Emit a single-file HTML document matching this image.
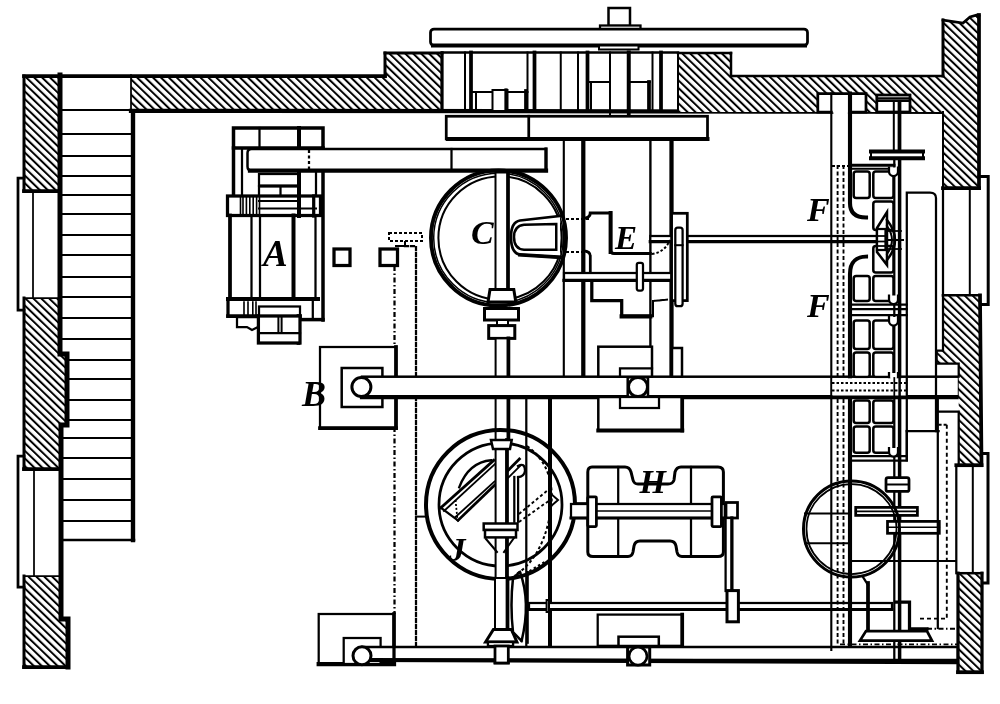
<!DOCTYPE html>
<html><head><meta charset="utf-8"><style>
html,body{margin:0;padding:0;background:#fff;}
svg{display:block;will-change:transform;}
text{font-family:"Liberation Serif",serif;font-style:italic;font-weight:bold;fill:#000;stroke:none;}
</style></head><body>
<svg width="1000" height="704" viewBox="0 0 1000 704">
<defs>
<pattern id="h" patternUnits="userSpaceOnUse" width="5.5" height="5.5" patternTransform="rotate(-46)">
<rect width="5.5" height="5.5" fill="#fff"/>
<rect x="0" y="0" width="2.0" height="5.5" fill="#000"/>
</pattern>
</defs>
<rect width="1000" height="704" fill="#fff"/>
<g stroke="#000" fill="none" stroke-linecap="square">
<polygon points="24,76 59,76 59,191 24,191" fill="url(#h)" stroke="none"/>
<polygon points="24,298 60,298 60,354 67,354 67,425 60,425 60,469 24,469" fill="url(#h)" stroke="none"/>
<polygon points="24,576 62,576 62,619 68,619 68,667 24,667" fill="url(#h)" stroke="none"/>
<line x1="24" y1="76" x2="24" y2="191" stroke-width="3.00"/>
<line x1="24" y1="191" x2="59" y2="191" stroke-width="3.75"/>
<line x1="24" y1="298" x2="24" y2="469" stroke-width="3.00"/>
<line x1="24" y1="298" x2="60" y2="298" stroke-width="1.75"/>
<line x1="24" y1="469" x2="60" y2="469" stroke-width="3.75"/>
<line x1="24" y1="576" x2="24" y2="667" stroke-width="3.00"/>
<line x1="24" y1="576" x2="62" y2="576" stroke-width="1.75"/>
<line x1="24" y1="667" x2="68" y2="667" stroke-width="3.75"/>
<polyline points="24,178 18,178 18,310 24,310" stroke-width="2.75" fill="none"/>
<line x1="33" y1="191" x2="33" y2="298" stroke-width="1.75"/>
<polyline points="24,456 18,456 18,587 24,587" stroke-width="2.75" fill="none"/>
<line x1="34" y1="469" x2="34" y2="576" stroke-width="1.75"/>
<polyline points="60,75 60,354 67,354 67,425 61,425 61,619 68,619 68,667" stroke-width="5.00" fill="none"/>
<line x1="133" y1="111" x2="133" y2="540" stroke-width="4.38"/>
<line x1="61" y1="540" x2="134" y2="540" stroke-width="2.50"/>
<line x1="61" y1="110" x2="133" y2="110" stroke-width="2.00"/>
<line x1="61" y1="134" x2="133" y2="134" stroke-width="2.00"/>
<line x1="61" y1="156" x2="133" y2="156" stroke-width="2.00"/>
<line x1="61" y1="176" x2="133" y2="176" stroke-width="2.00"/>
<line x1="61" y1="195" x2="133" y2="195" stroke-width="2.00"/>
<line x1="61" y1="214" x2="133" y2="214" stroke-width="2.00"/>
<line x1="61" y1="235" x2="133" y2="235" stroke-width="2.00"/>
<line x1="61" y1="255" x2="133" y2="255" stroke-width="2.00"/>
<line x1="61" y1="277" x2="133" y2="277" stroke-width="2.00"/>
<line x1="61" y1="297" x2="133" y2="297" stroke-width="2.00"/>
<line x1="61" y1="318" x2="133" y2="318" stroke-width="2.00"/>
<line x1="61" y1="339" x2="133" y2="339" stroke-width="2.00"/>
<line x1="67" y1="360" x2="133" y2="360" stroke-width="2.00"/>
<line x1="67" y1="379" x2="133" y2="379" stroke-width="2.00"/>
<line x1="67" y1="400" x2="133" y2="400" stroke-width="2.00"/>
<line x1="67" y1="420" x2="133" y2="420" stroke-width="2.00"/>
<line x1="61" y1="438" x2="133" y2="438" stroke-width="2.00"/>
<line x1="61" y1="458" x2="133" y2="458" stroke-width="2.00"/>
<line x1="61" y1="479" x2="133" y2="479" stroke-width="2.00"/>
<line x1="61" y1="500" x2="133" y2="500" stroke-width="2.00"/>
<line x1="61" y1="521" x2="133" y2="521" stroke-width="2.00"/>
<polygon points="131,76 385,76 385,53 442,53 442,111 131,111" fill="url(#h)" stroke="none"/>
<line x1="24" y1="76" x2="385" y2="76" stroke-width="3.75"/>
<line x1="385" y1="76" x2="385" y2="53" stroke-width="3.00"/>
<line x1="385" y1="53" x2="442" y2="53" stroke-width="3.00"/>
<line x1="442" y1="53" x2="442" y2="111" stroke-width="3.25"/>
<line x1="131" y1="75" x2="131" y2="111" stroke-width="1.75"/>
<line x1="131" y1="110.8" x2="831.3" y2="111.6" stroke-width="4.25"/>
<line x1="850" y1="111.6" x2="946" y2="111.8" stroke-width="4.25"/>
<polygon points="678,53 731,53 731,76 943,76 943,20 963,23 970,17 977,15 979,16 979,188 943,188 943,112 678,112" fill="url(#h)" stroke="none"/>
<line x1="678" y1="53" x2="678" y2="111" stroke-width="2.00"/>
<line x1="678" y1="53" x2="731" y2="53" stroke-width="2.50"/>
<line x1="731" y1="53" x2="731" y2="76" stroke-width="2.50"/>
<line x1="731" y1="76" x2="943" y2="76" stroke-width="2.50"/>
<line x1="943" y1="76" x2="943" y2="20" stroke-width="3.00"/>
<polyline points="943,20 963,23 970,17 977,15 979,16" stroke-width="2.75" fill="none"/>
<line x1="979" y1="15" x2="979" y2="188" stroke-width="3.75"/>
<line x1="943" y1="112" x2="943" y2="188" stroke-width="2.00"/>
<line x1="943" y1="188" x2="979" y2="188" stroke-width="3.75"/>
<rect x="608.5" y="8" width="21.5" height="18" stroke-width="2.50" fill="#fff"/>
<rect x="600" y="25.5" width="40.5" height="4.5" stroke-width="2.25" fill="#fff"/>
<rect x="430.5" y="29" width="377.0" height="16.5" stroke-width="2.75" fill="#fff" rx="3.5"/>
<line x1="433" y1="45.5" x2="805" y2="45.5" stroke-width="4.00"/>
<rect x="599" y="45.5" width="39.5" height="4.0" stroke-width="2.00" fill="#fff"/>
<line x1="442" y1="52.5" x2="678" y2="52.5" stroke-width="2.50"/>
<line x1="610" y1="111" x2="610" y2="116.25" stroke-width="2.00"/>
<line x1="628.75" y1="111" x2="628.75" y2="116.25" stroke-width="3.75"/>
<line x1="465" y1="52.5" x2="465" y2="111" stroke-width="2.00"/>
<line x1="471" y1="52.5" x2="471" y2="111" stroke-width="3.75"/>
<line x1="527.5" y1="52.5" x2="527.5" y2="111" stroke-width="2.00"/>
<line x1="534.5" y1="52.5" x2="534.5" y2="111" stroke-width="3.75"/>
<line x1="560.75" y1="52.5" x2="560.75" y2="111" stroke-width="2.00"/>
<line x1="578" y1="52.5" x2="578" y2="111" stroke-width="2.00"/>
<line x1="587.5" y1="52.5" x2="587.5" y2="111" stroke-width="3.75"/>
<line x1="610" y1="52.5" x2="610" y2="111" stroke-width="2.00"/>
<line x1="628.75" y1="52.5" x2="628.75" y2="111" stroke-width="4.00"/>
<line x1="652.5" y1="52.5" x2="652.5" y2="111" stroke-width="2.00"/>
<line x1="661" y1="52.5" x2="661" y2="111" stroke-width="3.75"/>
<line x1="471" y1="92" x2="527.5" y2="92" stroke-width="2.00"/>
<line x1="476" y1="92" x2="476" y2="111" stroke-width="2.00"/>
<rect x="492.5" y="90" width="15.0" height="21" stroke-width="2.00" fill="#fff"/>
<line x1="506" y1="90" x2="506" y2="111" stroke-width="3.25"/>
<line x1="526" y1="91" x2="526" y2="111" stroke-width="3.75"/>
<line x1="587.5" y1="82" x2="610" y2="82" stroke-width="2.00"/>
<line x1="591" y1="82" x2="591" y2="111" stroke-width="2.00"/>
<line x1="628.75" y1="82" x2="650" y2="82" stroke-width="2.00"/>
<line x1="649" y1="82" x2="649" y2="111" stroke-width="3.75"/>
<rect x="446.25" y="116.25" width="261.25" height="22.75" stroke-width="2.75" fill="#fff"/>
<line x1="448" y1="139" x2="707.5" y2="139" stroke-width="4.00"/>
<line x1="528.75" y1="116.25" x2="528.75" y2="139" stroke-width="2.75"/>
<line x1="563.8" y1="139" x2="563.8" y2="376" stroke-width="2.12"/>
<line x1="583.3" y1="139" x2="583.3" y2="376" stroke-width="4.25"/>
<line x1="650.4" y1="139" x2="650.4" y2="376" stroke-width="2.38"/>
<line x1="671.5" y1="139" x2="671.5" y2="376" stroke-width="4.25"/>
<rect x="233.5" y="128" width="89.5" height="20" stroke-width="3.50" fill="#fff"/>
<line x1="259.5" y1="128" x2="259.5" y2="148" stroke-width="2.25"/>
<line x1="299" y1="128" x2="299" y2="148" stroke-width="4.00"/>
<line x1="233.5" y1="148" x2="233.5" y2="196" stroke-width="3.50"/>
<line x1="323" y1="148" x2="323" y2="320" stroke-width="3.50"/>
<line x1="242" y1="149" x2="242" y2="196" stroke-width="2.25"/>
<path d="M 546,149 L 251.5,149 Q 247.5,149 247.5,153 L 247.5,166.5 Q 247.5,170.5 251.5,170.5 L 546,170.5 Z" stroke-width="2.50" fill="#fff"/>
<line x1="546" y1="149" x2="546" y2="170.5" stroke-width="3.25"/>
<line x1="250" y1="170.5" x2="546" y2="170.5" stroke-width="4.25"/>
<line x1="309" y1="150" x2="309" y2="170" stroke-width="2.25" stroke-dasharray="3,2.5" stroke-linecap="butt"/>
<line x1="451.5" y1="149" x2="451.5" y2="170.5" stroke-width="2.25"/>
<rect x="259" y="174" width="40" height="11.5" stroke-width="2.25" fill="#fff"/>
<rect x="259" y="186.5" width="40" height="10.0" stroke-width="2.25" fill="#fff"/>
<line x1="280.5" y1="186.5" x2="280.5" y2="196.5" stroke-width="2.25"/>
<line x1="299" y1="171" x2="299" y2="197" stroke-width="4.00"/>
<line x1="316" y1="171" x2="316" y2="197" stroke-width="2.25"/>
<rect x="227.5" y="196" width="93.0" height="19.5" stroke-width="3.25" fill="#fff"/>
<line x1="259" y1="201" x2="299" y2="201" stroke-width="2.00"/>
<line x1="259" y1="208.5" x2="316" y2="208.5" stroke-width="2.00"/>
<line x1="240.5" y1="196" x2="240.5" y2="215.5" stroke-width="1.62"/>
<line x1="243" y1="196" x2="243" y2="215.5" stroke-width="1.62"/>
<line x1="246.4" y1="196" x2="246.4" y2="215.5" stroke-width="1.62"/>
<line x1="249.8" y1="196" x2="249.8" y2="215.5" stroke-width="1.62"/>
<line x1="253.2" y1="196" x2="253.2" y2="215.5" stroke-width="1.62"/>
<line x1="256.6" y1="196" x2="256.6" y2="215.5" stroke-width="1.62"/>
<line x1="259.5" y1="196" x2="259.5" y2="215.5" stroke-width="1.62"/>
<line x1="299" y1="196" x2="299" y2="216" stroke-width="4.00"/>
<line x1="313.7" y1="196" x2="313.7" y2="216" stroke-width="3.25"/>
<line x1="230" y1="215.5" x2="230" y2="299" stroke-width="3.75"/>
<line x1="251.5" y1="215.5" x2="251.5" y2="299" stroke-width="2.25"/>
<line x1="260" y1="215.5" x2="260" y2="299" stroke-width="2.25"/>
<line x1="293.5" y1="215.5" x2="293.5" y2="299" stroke-width="4.00"/>
<line x1="315.5" y1="215.5" x2="315.5" y2="299" stroke-width="2.25"/>
<line x1="228" y1="299" x2="318" y2="299" stroke-width="4.00"/>
<line x1="228" y1="299" x2="228" y2="316" stroke-width="3.25"/>
<line x1="228" y1="316" x2="300" y2="316" stroke-width="3.75"/>
<line x1="244" y1="302" x2="244" y2="316" stroke-width="1.62"/>
<line x1="248" y1="302" x2="248" y2="316" stroke-width="1.62"/>
<line x1="252.8" y1="302" x2="252.8" y2="316" stroke-width="1.62"/>
<line x1="256" y1="302" x2="256" y2="316" stroke-width="1.62"/>
<rect x="259" y="306.5" width="41" height="9.5" stroke-width="2.25" fill="#fff"/>
<line x1="312.8" y1="299" x2="312.8" y2="319.6" stroke-width="2.25"/>
<line x1="298.5" y1="316" x2="298.5" y2="343" stroke-width="3.75"/>
<line x1="300" y1="319.6" x2="323" y2="319.6" stroke-width="3.50"/>
<rect x="258.4" y="316" width="41.60000000000002" height="27" stroke-width="3.25" fill="#fff"/>
<line x1="258.4" y1="333" x2="300" y2="333" stroke-width="2.25"/>
<line x1="278.4" y1="316" x2="278.4" y2="333" stroke-width="2.00"/>
<line x1="281.6" y1="316" x2="281.6" y2="333" stroke-width="2.00"/>
<polyline points="258,317 237,317 237,327 247,327 252,330 258,327" stroke-width="2.25" fill="none"/>
<text x="263" y="266" font-size="37">A</text>
<rect x="334" y="249" width="16" height="16.5" stroke-width="3.25" fill="#fff"/>
<rect x="380" y="249" width="17.5" height="16.5" stroke-width="3.25" fill="#fff"/>
<rect x="389" y="233" width="33" height="8" stroke-width="2.00" fill="none" stroke-dasharray="3,2" stroke-linecap="butt"/>
<polyline points="396,246 405,246 405,241" stroke-width="2.00" fill="none" stroke-dasharray="3,2"/>
<polyline points="405,246 416,246 416,646" stroke-width="2.25" fill="none" stroke-dasharray="3,3"/>
<line x1="394.5" y1="266" x2="394.5" y2="614" stroke-width="2.25" stroke-dasharray="5,2.5,1.5,2.5" stroke-linecap="butt"/>
<circle cx="498.5" cy="238" r="67.6" stroke-width="3.75" fill="none"/>
<circle cx="498.5" cy="238" r="64.8" stroke-width="1.50" fill="none"/>
<circle cx="500" cy="238" r="61.6" stroke-width="2.00" fill="none"/>
<path d="M 452,190 A 66,66 0 0 0 452,286" stroke-width="2.50" fill="none"/>
<path d="M 560,216 L 520,220.5 Q 511,222 511,237 Q 511,253 520,254.75 L 560,257.25" stroke-width="2.75" fill="#fff"/>
<line x1="520" y1="254.75" x2="560" y2="257.25" stroke-width="3.75"/>
<path d="M 556.25,224 L 524,224.75 Q 514,226 514,237 Q 514,249 524,249.75 L 556.25,249.75 Z" stroke-width="2.50" fill="none"/>
<rect x="495.5" y="172.5" width="12.5" height="117.5" stroke-width="2.00" fill="#fff"/>
<line x1="508" y1="172.5" x2="508" y2="290" stroke-width="3.75"/>
<path d="M 490,289.5 L 513.8,289.5 L 515.8,302 L 488,302 Z" stroke-width="3.00" fill="#fff"/>
<rect x="484.5" y="308.5" width="34.0" height="11.5" stroke-width="3.00" fill="#fff"/>
<rect x="497" y="320" width="11" height="5.5" stroke-width="2.00" fill="#fff"/>
<rect x="488.7" y="325.6" width="26.099999999999966" height="12.799999999999955" stroke-width="3.00" fill="#fff"/>
<rect x="495.6" y="338.4" width="12.799999999999955" height="101.60000000000002" stroke-width="2.00" fill="#fff"/>
<line x1="508.4" y1="338.4" x2="508.4" y2="440" stroke-width="3.75"/>
<text x="471" y="244" font-size="34">C</text>
<line x1="566" y1="219" x2="590" y2="219" stroke-width="2.00" stroke-dasharray="3,2" stroke-linecap="butt"/>
<line x1="566" y1="252" x2="590" y2="252" stroke-width="2.00" stroke-dasharray="3,2" stroke-linecap="butt"/>
<path d="M 583.5,218.5 Q 590.3,218 590.3,213 L 610.6,213 L 610.6,250 Q 610.6,253.6 614,253.6 L 650.3,253.6" stroke-width="3.00" fill="none"/>
<line x1="610.6" y1="213" x2="610.6" y2="252" stroke-width="4.00"/>
<path d="M 583.5,250.8 Q 590.3,251 590.3,256 L 590.3,273" stroke-width="2.75" fill="none"/>
<polyline points="591.8,281 591.8,300.6 621.7,300.6 621.7,316.3 650.3,316.3" stroke-width="3.25" fill="none"/>
<line x1="621.7" y1="316.3" x2="650.3" y2="316.3" stroke-width="4.25"/>
<text x="615" y="249" font-size="33">E</text>
<rect x="564" y="273" width="107.60000000000002" height="7.300000000000011" stroke-width="2.25" fill="#fff"/>
<line x1="564" y1="280.3" x2="671.6" y2="280.3" stroke-width="3.25"/>
<rect x="636.8" y="262.8" width="6.2000000000000455" height="27.69999999999999" stroke-width="2.25" fill="#fff" rx="2"/>
<rect x="650.3" y="236" width="229.70000000000005" height="5.5" stroke-width="2.25" fill="#fff"/>
<line x1="650.3" y1="241.5" x2="880" y2="241.5" stroke-width="3.25"/>
<rect x="671.6" y="213.3" width="15.699999999999932" height="87.30000000000001" stroke-width="2.75" fill="#fff"/>
<rect x="675.3" y="227.7" width="7.300000000000068" height="78.5" stroke-width="2.25" fill="#fff" rx="2.5"/>
<line x1="675.3" y1="245.2" x2="682.6" y2="245.2" stroke-width="2.00"/>
<path d="M 652,254 Q 665,252 670,240" stroke-width="2.00" fill="none" stroke-dasharray="2.5,2" stroke-linecap="butt"/>
<polyline points="653,316.3 653,301 667,299.7" stroke-width="2.00" fill="none" stroke-dasharray="2.5,2"/>
<rect x="320" y="347" width="76" height="81" stroke-width="2.25" fill="#fff"/>
<line x1="320" y1="428" x2="396" y2="428" stroke-width="3.75"/>
<line x1="396" y1="347" x2="396" y2="428" stroke-width="3.75"/>
<rect x="341.7" y="368" width="40.69999999999999" height="39" stroke-width="2.50" fill="#fff"/>
<rect x="362" y="376.7" width="597" height="20.30000000000001" stroke-width="2.50" fill="#fff"/>
<line x1="362" y1="397" x2="959" y2="397" stroke-width="4.25"/>
<circle cx="361.4" cy="387" r="9.5" stroke-width="3.00" fill="#fff"/>
<text x="302" y="406" font-size="36">B</text>
<rect x="598.3" y="346.7" width="53.700000000000045" height="30.0" stroke-width="2.50" fill="#fff"/>
<polyline points="620,376.7 620,368.4 652,368.4" stroke-width="2.25" fill="none"/>
<rect x="672" y="348" width="10" height="28.69999999999999" stroke-width="2.50" fill="#fff"/>
<rect x="627.7" y="377.3" width="20.299999999999955" height="20.5" stroke-width="2.50" fill="#fff"/>
<circle cx="638" cy="387" r="9.5" stroke-width="3.00" fill="#fff"/>
<rect x="598.3" y="397" width="83.90000000000009" height="33.5" stroke-width="2.50" fill="#fff"/>
<line x1="598.3" y1="430.5" x2="682.2" y2="430.5" stroke-width="4.00"/>
<line x1="682.2" y1="397" x2="682.2" y2="430.5" stroke-width="3.75"/>
<rect x="620" y="397" width="39" height="11" stroke-width="2.25" fill="#fff"/>
<line x1="526.3" y1="398" x2="526.3" y2="647" stroke-width="2.25"/>
<line x1="550" y1="398" x2="550" y2="647" stroke-width="4.00"/>
<circle cx="500.5" cy="504.5" r="74.5" stroke-width="4.00" fill="none"/>
<circle cx="500.5" cy="504.5" r="61.5" stroke-width="2.75" fill="none"/>
<path d="M 527,446 Q 560,470 549,520 Q 540,560 515,575" stroke-width="2.00" fill="none" stroke-dasharray="3,2.5" stroke-linecap="butt"/>
<path d="M 519,514 L 548,490" stroke-width="1.88" fill="none" stroke-dasharray="3,2.5" stroke-linecap="butt"/>
<path d="M 519,522 L 550,500" stroke-width="1.88" fill="none" stroke-dasharray="3,2.5" stroke-linecap="butt"/>
<path d="M 551,494 L 558,500 L 551,506" stroke-width="2.00" fill="none"/>
<line x1="440.8" y1="507.7" x2="493.8" y2="460.3" stroke-width="2.75"/>
<line x1="444" y1="511" x2="495" y2="464" stroke-width="1.88"/>
<line x1="458" y1="520.4" x2="495.1" y2="484.6" stroke-width="2.75"/>
<line x1="455" y1="517.5" x2="494.5" y2="481.5" stroke-width="1.88"/>
<line x1="440.8" y1="507.7" x2="458" y2="520.4" stroke-width="2.25"/>
<line x1="455.5" y1="500" x2="457.4" y2="519" stroke-width="1.75" stroke-dasharray="2,2" stroke-linecap="butt"/>
<path d="M 459.3,487.2 Q 468.7,462.25 491.3,460.3" stroke-width="2.38" fill="none"/>
<rect x="495.6" y="440" width="10.899999999999977" height="140" stroke-width="2.00" fill="#fff"/>
<line x1="507" y1="440" x2="507" y2="580" stroke-width="3.75"/>
<path d="M 491,440 L 511.7,440 L 510,449 L 493,449 Z" stroke-width="2.50" fill="#fff"/>
<line x1="507.9" y1="470.6" x2="519.4" y2="459" stroke-width="2.75"/>
<line x1="508" y1="478" x2="520" y2="466" stroke-width="1.88"/>
<line x1="514.3" y1="477" x2="514.3" y2="521.7" stroke-width="2.25"/>
<line x1="518.1" y1="477" x2="518.1" y2="521.7" stroke-width="2.25"/>
<path d="M 518,466 Q 525,462 525,471 Q 524,477 518,477" stroke-width="2.25" fill="none"/>
<rect x="483.7" y="523.5" width="33.80000000000001" height="6.5" stroke-width="2.50" fill="#fff"/>
<rect x="485" y="530" width="31" height="7.399999999999977" stroke-width="2.50" fill="#fff"/>
<path d="M 486,539 L 497,552 M 514,538 L 504,552" stroke-width="2.00" fill="none"/>
<text x="449" y="561" font-size="33">J</text>
<line x1="416" y1="516.6" x2="426" y2="516.6" stroke-width="2.00"/>
<line x1="575" y1="503.3" x2="588" y2="503.3" stroke-width="2.25"/>
<line x1="575" y1="517.8" x2="588" y2="517.8" stroke-width="2.25"/>
<rect x="495" y="578" width="12.5" height="51.5" stroke-width="2.00" fill="#fff"/>
<line x1="507.5" y1="578" x2="507.5" y2="629.5" stroke-width="3.75"/>
<path d="M 493.4,629.5 L 511.4,629.5 L 516.9,642 L 485.6,642 Z" stroke-width="3.00" fill="#fff"/>
<rect x="488" y="642" width="25" height="4" stroke-width="2.25" fill="#fff"/>
<rect x="495" y="646" width="13.300000000000011" height="17" stroke-width="2.75" fill="#fff"/>
<path d="M 520,572 Q 531,602 521.6,641 M 513,578 Q 510,605 513,632 M 513,578 L 520,572 M 513,632 L 521.6,641" stroke-width="2.50" fill="none"/>
<line x1="527.8" y1="572" x2="527.8" y2="642.8" stroke-width="2.00"/>
<path d="M 529.4,571 Q 538,566 546.6,560.8" stroke-width="2.00" fill="none" stroke-dasharray="2.5,2.5" stroke-linecap="butt"/>
<rect x="529" y="603" width="363" height="6.5" stroke-width="2.25" fill="#fff"/>
<line x1="529" y1="609.5" x2="892" y2="609.5" stroke-width="3.00"/>
<rect x="546.6" y="600" width="2.3999999999999773" height="12" stroke-width="2.00" fill="#fff"/>
<path d="M 592,467 L 625,467 Q 629.6,467 631,472 L 633,480 Q 634,484 638,484 L 668,484 Q 673,484 674,480 L 675,472 Q 676.5,467 681,467 L 718,467 Q 723.4,467 723.4,472 L 723.4,552 Q 723.4,556.5 718,556.5 L 682,556.5 Q 678,556.5 677,552 L 676,546 Q 675,541 670,541 L 640,541 Q 635,541 634,546 L 633,552 Q 632,556.5 628,556.5 L 593,556.5 Q 587.8,556.5 587.8,552 L 587.8,472 Q 587.8,467 592,467 Z" stroke-width="3.00" fill="#fff"/>
<line x1="618.2" y1="467" x2="618.2" y2="556.5" stroke-width="2.25"/>
<line x1="691" y1="467" x2="691" y2="556.5" stroke-width="2.25"/>
<rect x="571" y="504" width="153.79999999999995" height="14" stroke-width="2.25" fill="#fff"/>
<line x1="596" y1="511" x2="712" y2="511" stroke-width="1.62"/>
<line x1="571" y1="518" x2="724.8" y2="518" stroke-width="3.00"/>
<rect x="587.8" y="496.8" width="8.600000000000023" height="29.80000000000001" stroke-width="2.75" fill="#fff" rx="1"/>
<rect x="712" y="496.8" width="9.399999999999977" height="29.80000000000001" stroke-width="2.75" fill="#fff" rx="1"/>
<rect x="726" y="502.5" width="11.5" height="15.5" stroke-width="2.75" fill="#fff"/>
<rect x="725.6" y="518" width="6.2999999999999545" height="73" stroke-width="2.25" fill="#fff"/>
<line x1="731.9" y1="518" x2="731.9" y2="591" stroke-width="3.25"/>
<rect x="727" y="590.6" width="11.399999999999977" height="31.199999999999932" stroke-width="3.00" fill="#fff"/>
<text x="639.5" y="492.5" font-size="34">H</text>
<rect x="318.7" y="614" width="75.30000000000001" height="50" stroke-width="2.25" fill="#fff"/>
<line x1="318.7" y1="664" x2="394" y2="664" stroke-width="4.25"/>
<line x1="394" y1="614" x2="394" y2="664" stroke-width="3.25"/>
<rect x="343.7" y="638" width="36.900000000000034" height="26" stroke-width="2.25" fill="#fff"/>
<rect x="362" y="647" width="596" height="13" stroke-width="2.50" fill="#fff"/>
<line x1="362" y1="660" x2="958" y2="662" stroke-width="4.25"/>
<circle cx="362" cy="655.7" r="9" stroke-width="3.00" fill="#fff"/>
<rect x="488" y="642" width="25" height="4" stroke-width="2.25" fill="#fff"/>
<rect x="495" y="646" width="13.300000000000011" height="17" stroke-width="2.75" fill="#fff"/>
<line x1="394" y1="614" x2="394" y2="662" stroke-width="3.25"/>
<rect x="597.7" y="614.6" width="84.5" height="31.199999999999932" stroke-width="2.25" fill="#fff"/>
<line x1="682.2" y1="614.6" x2="682.2" y2="645.8" stroke-width="3.75"/>
<rect x="618.5" y="636.7" width="40.299999999999955" height="9.299999999999955" stroke-width="2.50" fill="#fff"/>
<rect x="627.6" y="647" width="22.100000000000023" height="18" stroke-width="3.00" fill="#fff"/>
<circle cx="638" cy="656.2" r="9" stroke-width="2.75" fill="#fff"/>
<line x1="943" y1="188" x2="943" y2="296" stroke-width="2.25"/>
<line x1="969.8" y1="188" x2="969.8" y2="296" stroke-width="2.00"/>
<polyline points="979,176.6 988.2,176.6 988.2,304.6 979,304.6" stroke-width="3.00" fill="none"/>
<polygon points="943,295.3 980,295.3 981.5,465.2 958.7,465.2 958.7,363.5 936.6,363.5 936.6,350.6 943,350.6" fill="url(#h)" stroke="none"/>
<line x1="943" y1="295.3" x2="980" y2="295.3" stroke-width="2.50"/>
<line x1="980" y1="295.3" x2="981.5" y2="465.2" stroke-width="3.75"/>
<polyline points="943,295.3 943,350.6 936.6,350.6 936.6,363.5 958.7,363.5 958.7,376.7" stroke-width="2.25" fill="none"/>
<polyline points="936.6,397 936.6,411.5 958.7,411.5 958.7,465.2" stroke-width="2.25" fill="none"/>
<line x1="956.3" y1="465.2" x2="981.5" y2="465.2" stroke-width="3.75"/>
<line x1="956.3" y1="465.2" x2="956.3" y2="573.2" stroke-width="2.25"/>
<line x1="972.8" y1="465.2" x2="972.8" y2="573.2" stroke-width="2.00"/>
<polyline points="982,453.6 988,453.6 988,583 982,583" stroke-width="3.00" fill="none"/>
<polygon points="958,573.2 982,573.2 982,672.2 958,672.2" fill="url(#h)" stroke="none"/>
<line x1="958" y1="573.2" x2="982" y2="573.2" stroke-width="2.50"/>
<line x1="958" y1="573.2" x2="958" y2="672.2" stroke-width="3.25"/>
<line x1="982" y1="573.2" x2="982" y2="672.2" stroke-width="3.25"/>
<line x1="958" y1="672.2" x2="982" y2="672.2" stroke-width="3.75"/>
<rect x="817.8" y="93.5" width="48.2" height="19" fill="#fff" stroke="none"/>
<polyline points="831.3,112 817.8,112 817.8,93.5 866,93.5 866,112 850,112" stroke-width="2.75" fill="none"/>
<line x1="831.3" y1="93.5" x2="831.3" y2="650" stroke-width="2.12"/>
<path d="M 850,93.5 L 850,203 Q 850,217.5 866,217.5" stroke-width="4.12" fill="none"/>
<path d="M 866,256.5 Q 850,256.5 850,274 L 850,645" stroke-width="4.12" fill="none"/>
<line x1="837.6" y1="165" x2="837.6" y2="645" stroke-width="1.88" stroke-dasharray="4,2.5" stroke-linecap="butt"/>
<line x1="843.5" y1="165" x2="843.5" y2="645" stroke-width="1.88" stroke-dasharray="4,2.5" stroke-linecap="butt"/>
<line x1="832" y1="166" x2="850" y2="166" stroke-width="1.88" stroke-dasharray="3,2" stroke-linecap="butt"/>
<rect x="853.7" y="171.6" width="16.0" height="26.400000000000006" stroke-width="2.50" fill="#fff" rx="2.5"/>
<rect x="873.3" y="171.6" width="20.200000000000045" height="26.400000000000006" stroke-width="2.50" fill="#fff" rx="2.5"/>
<rect x="873.3" y="201.5" width="20.200000000000045" height="28.5" stroke-width="2.50" fill="#fff" rx="2.5"/>
<rect x="873.3" y="246" width="20.200000000000045" height="26.5" stroke-width="2.50" fill="#fff" rx="2.5"/>
<rect x="853.7" y="276" width="16.0" height="25" stroke-width="2.50" fill="#fff" rx="2.5"/>
<rect x="873.3" y="276" width="20.200000000000045" height="25" stroke-width="2.50" fill="#fff" rx="2.5"/>
<rect x="853.7" y="320.5" width="16.0" height="28.5" stroke-width="2.50" fill="#fff" rx="2.5"/>
<rect x="873.3" y="320.5" width="20.200000000000045" height="28.5" stroke-width="2.50" fill="#fff" rx="2.5"/>
<rect x="853.7" y="352.4" width="16.0" height="24.600000000000023" stroke-width="2.50" fill="#fff" rx="2.5"/>
<rect x="873.3" y="352.4" width="20.200000000000045" height="24.600000000000023" stroke-width="2.50" fill="#fff" rx="2.5"/>
<rect x="853.7" y="400.5" width="16.0" height="22.5" stroke-width="2.50" fill="#fff" rx="2.5"/>
<rect x="873.3" y="400.5" width="20.200000000000045" height="22.5" stroke-width="2.50" fill="#fff" rx="2.5"/>
<rect x="853.7" y="426.6" width="16.0" height="26.099999999999966" stroke-width="2.50" fill="#fff" rx="2.5"/>
<rect x="873.3" y="426.6" width="20.200000000000045" height="26.099999999999966" stroke-width="2.50" fill="#fff" rx="2.5"/>
<line x1="850" y1="165.3" x2="894" y2="165.3" stroke-width="3.00"/>
<line x1="850" y1="168.8" x2="894" y2="168.8" stroke-width="2.00"/>
<line x1="850" y1="304.5" x2="906.8" y2="304.5" stroke-width="2.25"/>
<line x1="850" y1="309" x2="906.8" y2="309" stroke-width="2.25"/>
<line x1="850" y1="315" x2="906.8" y2="315" stroke-width="2.25"/>
<line x1="850" y1="456" x2="906.8" y2="456" stroke-width="2.25"/>
<line x1="850" y1="460.7" x2="906.8" y2="460.7" stroke-width="2.25"/>
<line x1="894.3" y1="160" x2="894.3" y2="662" stroke-width="2.25"/>
<line x1="899.6" y1="160" x2="899.6" y2="662" stroke-width="3.50"/>
<rect x="876.8" y="95" width="33.200000000000045" height="17" stroke-width="2.75" fill="#fff"/>
<line x1="878" y1="98.5" x2="908" y2="98.5" stroke-width="2.50"/>
<line x1="878" y1="101" x2="908" y2="101" stroke-width="2.00"/>
<line x1="893.8" y1="102.8" x2="893.8" y2="151" stroke-width="2.00"/>
<line x1="899.5" y1="102.8" x2="899.5" y2="151" stroke-width="3.75"/>
<line x1="871" y1="151.5" x2="923" y2="151.5" stroke-width="4.00"/>
<line x1="871" y1="158.2" x2="923" y2="158.2" stroke-width="4.00"/>
<line x1="871" y1="151.5" x2="871" y2="158.2" stroke-width="2.00"/>
<line x1="923" y1="151.5" x2="923" y2="158.2" stroke-width="2.00"/>
<path d="M 889,167.6 L 889,171.6 A 4.5,4.5 0 0 0 898,171.6 L 898,167.6" stroke-width="2.25" fill="#fff"/>
<path d="M 889,295.5 L 889,299.5 A 4.5,4.5 0 0 0 898,299.5 L 898,295.5" stroke-width="2.25" fill="#fff"/>
<path d="M 889,317 L 889,321 A 4.5,4.5 0 0 0 898,321 L 898,317" stroke-width="2.25" fill="#fff"/>
<path d="M 889,373 L 889,377 A 4.5,4.5 0 0 0 898,377 L 898,373" stroke-width="2.25" fill="#fff"/>
<path d="M 889,448 L 889,452 A 4.5,4.5 0 0 0 898,452 L 898,448" stroke-width="2.25" fill="#fff"/>
<rect x="832.5" y="378.3" width="74" height="17.2" fill="#fff" stroke="none"/>
<line x1="832" y1="383" x2="908" y2="383" stroke-width="2.00" stroke-dasharray="2.5,2" stroke-linecap="butt"/>
<line x1="832" y1="390.5" x2="908" y2="390.5" stroke-width="2.00" stroke-dasharray="2.5,2" stroke-linecap="butt"/>
<line x1="894.3" y1="378" x2="894.3" y2="396" stroke-width="1.75"/>
<line x1="899.6" y1="378" x2="899.6" y2="396" stroke-width="2.50"/>
<path d="M 906.8,460 L 906.8,192.5 L 930,192.5 Q 936,192.5 936,198 L 936,431" stroke-width="2.25" fill="none"/>
<line x1="906.8" y1="431" x2="938.6" y2="431" stroke-width="2.25"/>
<path d="M 877,228 L 887,212 L 887,265 L 877,252 Z" stroke-width="2.50" fill="#fff"/>
<rect x="877" y="229" width="8.5" height="21" stroke-width="2.25" fill="#fff"/>
<line x1="877" y1="236" x2="885.5" y2="236" stroke-width="1.75"/>
<line x1="877" y1="241.5" x2="885.5" y2="241.5" stroke-width="1.75"/>
<line x1="877" y1="246" x2="885.5" y2="246" stroke-width="1.75"/>
<path d="M 887,220 Q 903,240 887,260" stroke-width="2.50" fill="none"/>
<path d="M 887,226 Q 897,240 887,254" stroke-width="2.00" fill="none"/>
<line x1="887" y1="231" x2="901" y2="231" stroke-width="1.75"/>
<line x1="887" y1="240" x2="903" y2="240" stroke-width="2.00"/>
<line x1="887" y1="249" x2="901" y2="249" stroke-width="1.75"/>
<text x="807" y="221" font-size="34">F</text>
<text x="807" y="316.5" font-size="34">F</text>
<rect x="886" y="477.7" width="23" height="13.699999999999989" stroke-width="2.75" fill="#fff" rx="2"/>
<line x1="886" y1="484.5" x2="909" y2="484.5" stroke-width="2.00"/>
<rect x="855.7" y="507.4" width="61.69999999999993" height="8.0" stroke-width="2.75" fill="#fff"/>
<line x1="855.7" y1="511.4" x2="917.4" y2="511.4" stroke-width="1.62"/>
<rect x="887.5" y="521.4" width="51.799999999999955" height="11.899999999999977" stroke-width="2.75" fill="#fff"/>
<line x1="887.5" y1="527.3" x2="939.3" y2="527.3" stroke-width="1.62"/>
<circle cx="851.5" cy="529" r="48" stroke-width="3.00" fill="none"/>
<circle cx="851.5" cy="529" r="45" stroke-width="1.75" fill="none"/>
<line x1="805" y1="513.4" x2="851" y2="513.4" stroke-width="2.00"/>
<line x1="805" y1="543.3" x2="851" y2="543.3" stroke-width="2.00"/>
<line x1="851" y1="561" x2="955" y2="561" stroke-width="2.00"/>
<line x1="863" y1="577" x2="868" y2="585" stroke-width="2.25"/>
<line x1="868" y1="583" x2="868" y2="632" stroke-width="3.75"/>
<path d="M 866,631 L 927,631 L 932,640.5 L 860,640.5 Z" stroke-width="2.75" fill="#fff"/>
<polyline points="896.25,602 909.5,602 909.5,628.75 927,628.75" stroke-width="3.25" fill="none"/>
<line x1="927" y1="628.75" x2="960" y2="628.75" stroke-width="1.88" stroke-dasharray="5,2.5,1.5,2.5" stroke-linecap="butt"/>
<line x1="840" y1="644.4" x2="958" y2="644.4" stroke-width="1.75" stroke-dasharray="5,2.5,1.5,2.5" stroke-linecap="butt"/>
<line x1="937.8" y1="397" x2="937.8" y2="628" stroke-width="2.25"/>
<line x1="946.8" y1="424.7" x2="946.8" y2="618.6" stroke-width="1.88" stroke-dasharray="4,3" stroke-linecap="butt"/>
<line x1="938.6" y1="424.7" x2="946.8" y2="424.7" stroke-width="1.88" stroke-dasharray="3,2" stroke-linecap="butt"/>
<line x1="920" y1="618.6" x2="946.8" y2="618.6" stroke-width="1.88" stroke-dasharray="4,3" stroke-linecap="butt"/>
<line x1="906.8" y1="431" x2="906.8" y2="460" stroke-width="2.25"/>
</g>
</svg>
</body></html>
